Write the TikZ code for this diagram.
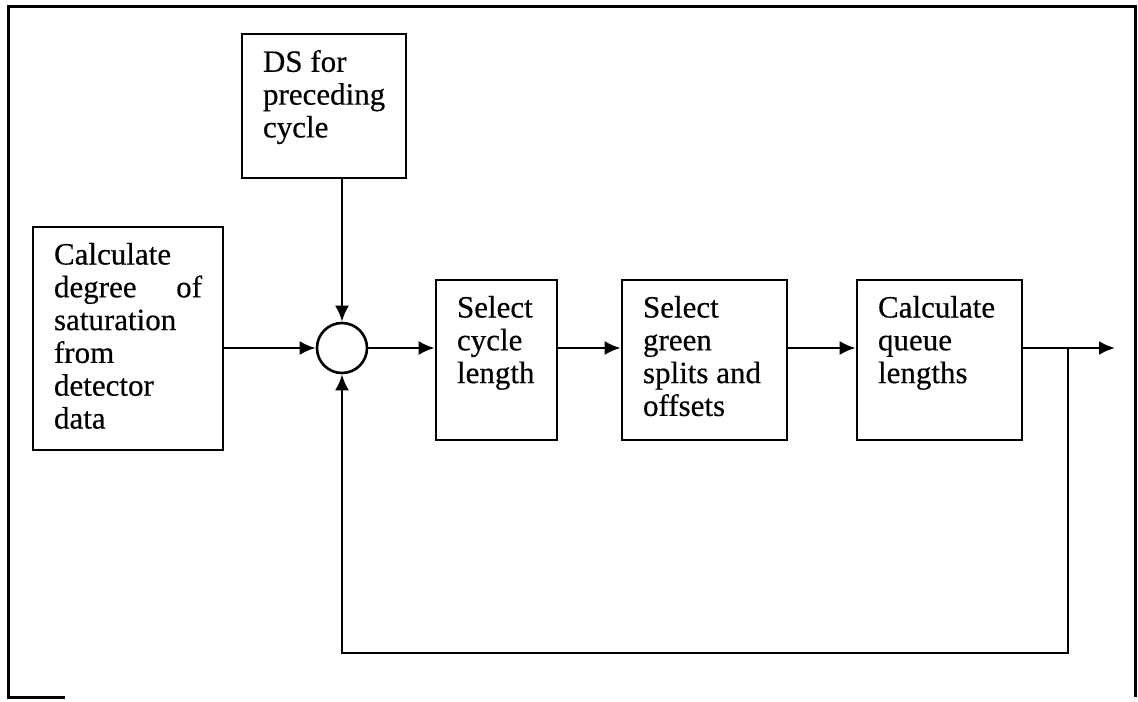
\documentclass[tikz,border=0pt]{standalone}
\usepackage{fontspec}
\setmainfont{Liberation Serif}
\newfontfamily\blockfont{Liberation Serif}[FakeBold=0.4]
\usetikzlibrary{arrows.meta}
\tikzset{
  block/.style={draw, line width=1.3bp, inner sep=0pt},
  txt/.style={anchor=north west, inner sep=0pt, align=left,
    font=\blockfont\fontsize{15.5bp}{16.4bp}\selectfont, xshift=10.5bp, yshift=-8bp},
}
\begin{document}
\begin{tikzpicture}[x=0.5bp,y=-0.5bp,>={Latex[length=8bp,width=7bp]},line join=miter]
  \useasboundingbox (0,0) rectangle (1138,701);
  \pgfsetlinewidth{1.3bp}
%%
  % Frame
  \draw[line width=1.5bp] (65,697) -- (8,697) -- (8,7) -- (1135,7) -- (1135,697);
  % Node: ds
  \node[block, minimum width=82bp, minimum height=72bp,
    label={[txt]north west:{DS for\\preceding\\cycle}}] (ds) at (324,106) {};
  % Node: calc
  \node[block, minimum width=95bp, minimum height=111.5bp,
    label={[txt, text width=74bp]north west:{Calculate\\degree\hfill of\\saturation\\from\\detector\\data}}] (calc) at (128,338.5) {};
  % Node: sum
  \node[draw, circle, line width=1.3bp, minimum size=25bp, inner sep=0pt] (sum) at (342,348) {};
  % Node: cyclelen
  \node[block, minimum width=60.5bp, minimum height=80bp,
    label={[txt]north west:{Select\\cycle\\length}}] (cyclelen) at (496.5,360) {};
  % Node: green
  \node[block, minimum width=82.5bp, minimum height=80bp,
    label={[txt]north west:{Select\\green\\splits and\\offsets}}] (green) at (704.5,360) {};
  % Node: queue
  \node[block, minimum width=82.5bp, minimum height=80bp,
    label={[txt]north west:{Calculate\\queue\\lengths}}] (queue) at (939.5,360) {};
  \coordinate (tap) at (1068,348);
  \coordinate (out) at (1115,348);
  \coordinate (bot) at (342,653);
%
  % Edge: calc -> sum
  \draw[->] (calc.east |- sum) -- (sum.west);
  % Edge: ds -> sum
  \draw[->] (ds.south -| sum) -- (sum.north);
  % Edge: sum -> cyclelen
  \draw[->] (sum.east) -- (cyclelen.west |- sum);
  % Edge: cyclelen -> green
  \draw[->] (cyclelen.east |- sum) -- (green.west |- sum);
  % Edge: green -> queue
  \draw[->] (green.east |- sum) -- (queue.west |- sum);
  % Edge: queue -> out
  \draw[->] (queue.east |- sum) -- (out);
  % Edge: tap -> sum (feedback)
  \draw[->] (tap) -- (tap |- bot) -- (bot) -- (sum.south);
%
\end{tikzpicture}
\end{document}
